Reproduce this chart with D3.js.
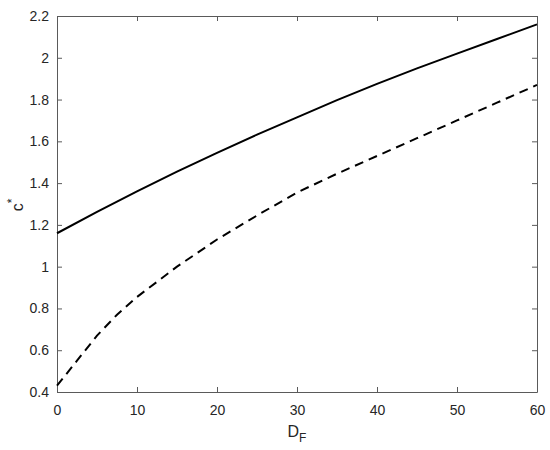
<!DOCTYPE html>
<html>
<head>
<meta charset="utf-8">
<script src="https://cdn.jsdelivr.net/npm/d3@7"></script>
<style>
  body { margin: 0; background: #fff; }
  svg { display: block; font-family: "Liberation Sans", Arial, sans-serif; }
  .axis text { fill: #262626; font-size: 14px; }
</style>
</head>
<body>
<svg id="chart" width="550" height="450"></svg>
<script>
// D_F values and the two c* curves
var dfSolid = [0, 5, 10, 15, 20, 25, 30, 35, 40, 45, 50, 55, 60];
var cSolid = [1.16, 1.262, 1.36, 1.455, 1.545, 1.632, 1.715, 1.797, 1.875, 1.949, 2.02, 2.09, 2.16];

var dfDashed = [0, 2.5, 5, 7.5, 10, 15, 20, 25, 30, 35, 40, 45, 50, 55, 60];
var cDashed = [0.43, 0.55, 0.67, 0.77, 0.855, 1.0, 1.13, 1.245, 1.355, 1.445, 1.53, 1.615, 1.70, 1.785, 1.87];

var xTicks = [0, 10, 20, 30, 40, 50, 60];
var yTicks = [0.4, 0.6, 0.8, 1, 1.2, 1.4, 1.6, 1.8, 2, 2.2];

var svg = d3.select('#chart');
var plotLeft = 57, plotRight = 537, plotTop = 16, plotBottom = 392;
var axisColor = '#5a5a5a';

var xScale = d3.scaleLinear().domain([0, 60]).range([plotLeft, plotRight]);
var yScale = d3.scaleLinear().domain([0.4, 2.2]).range([plotBottom, plotTop]);

var fmt = function(d){ return String(d); };

// axes on all four sides, ticks pointing inward
var xAxis = svg.append('g').classed('axis', true)
  .attr('transform', 'translate(0,' + plotBottom + ')')
  .call(d3.axisBottom(xScale).tickValues(xTicks).tickFormat(fmt).tickSizeInner(-5).tickSizeOuter(0).tickPadding(10));
svg.append('g').classed('axis', true)
  .attr('transform', 'translate(0,' + plotTop + ')')
  .call(d3.axisTop(xScale).tickValues(xTicks).tickFormat('').tickSizeInner(-5).tickSizeOuter(0));
svg.append('g').classed('axis', true)
  .attr('transform', 'translate(' + plotLeft + ',0)')
  .call(d3.axisLeft(yScale).tickValues(yTicks).tickFormat(fmt).tickSizeInner(-5).tickSizeOuter(0).tickPadding(8));
svg.append('g').classed('axis', true)
  .attr('transform', 'translate(' + plotRight + ',0)')
  .call(d3.axisRight(yScale).tickValues(yTicks).tickFormat('').tickSizeInner(-5).tickSizeOuter(0));

svg.selectAll('.axis path, .axis line').attr('stroke', axisColor);
xAxis.selectAll('text').attr('dy', '0.9em');

// lines
var line = d3.line()
  .x(function(d){ return xScale(d[0]); })
  .y(function(d){ return yScale(d[1]); });

var plot = svg.append('g');
plot.append('path')
  .datum(d3.zip(dfSolid, cSolid))
  .attr('fill', 'none')
  .attr('stroke', '#000')
  .attr('stroke-width', 2)
  .attr('d', line);

plot.append('path')
  .datum(d3.zip(dfDashed, cDashed))
  .attr('fill', 'none')
  .attr('stroke', '#000')
  .attr('stroke-width', 2)
  .attr('stroke-dasharray', '9,6')
  .attr('d', line);

// axis labels
var xl = svg.append('text')
  .attr('x', 297).attr('y', 437)
  .attr('text-anchor', 'middle')
  .attr('fill', '#262626')
  .style('font-size', '16px');
xl.append('tspan').text('D');
xl.append('tspan').attr('dy', 5).style('font-size', '12px').text('F');

var yl = svg.append('text')
  .attr('transform', 'translate(23,205) rotate(-90)')
  .attr('text-anchor', 'middle')
  .attr('fill', '#262626')
  .style('font-size', '16px');
yl.append('tspan').text('c');
yl.append('tspan').attr('dy', -7).style('font-size', '12px').text('*');
</script>
</body>
</html>
